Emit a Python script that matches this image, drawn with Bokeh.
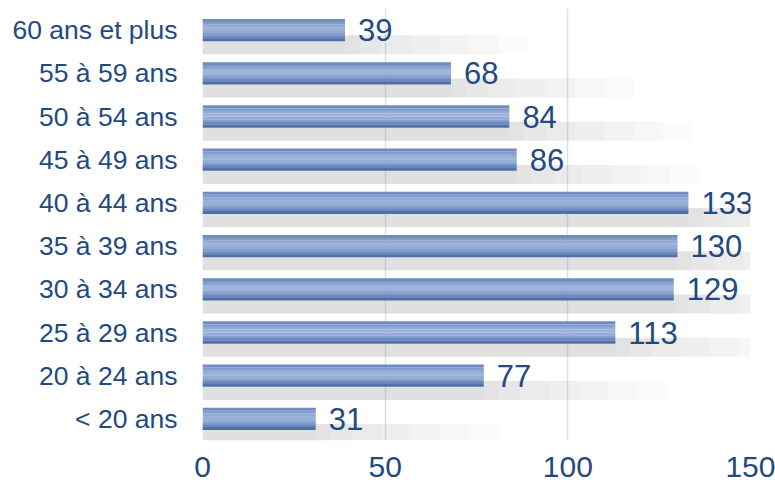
from bokeh.plotting import figure
from bokeh.models import ColumnDataSource, FactorRange, Range1d, FixedTicker
from bokeh.transform import dodge
from bokeh.core.properties import value
from bokeh.embed import file_html
from bokeh.resources import INLINE

categories = ["< 20 ans", "20 à 24 ans", "25 à 29 ans", "30 à 34 ans", "35 à 39 ans",
              "40 à 44 ans", "45 à 49 ans", "50 à 54 ans", "55 à 59 ans", "60 ans et plus"]
counts = [31, 77, 113, 129, 130, 133, 86, 84, 68, 39]
x_ticks = [0, 50, 100, 150]

FONT = "Liberation Sans"
TXT = "#234a7e"

src = ColumnDataSource(dict(cat=categories, val=counts, lab=[str(v) for v in counts]))

p = figure(width=775, height=483, output_backend="svg", toolbar_location=None,
           y_range=FactorRange(*categories, range_padding=0), x_range=Range1d(0, 150),
           min_border_left=202, min_border_right=25, min_border_top=8, min_border_bottom=43)
p.outline_line_color = None
p.background_fill_color = "white"

# shadows (layered for a soft fade)
for ext in [50, 42, 34, 26, 18, 10, 4, 0]:
    shadow_right = [v + ext for v in counts]
    s2 = ColumnDataSource(dict(cat=categories, r=shadow_right))
    p.hbar(y=dodge("cat", -0.34, range=p.y_range), left=0, right="r", height=0.44,
           source=s2, fill_color="#8a8a8a", fill_alpha=0.035, line_color=None)

# bar with pseudo-gradient bands (top -> bottom)
band_colors = ["#6f8cc0", "#839ecd", "#93abd6", "#9cb2da", "#94acd6", "#839ecc",
               "#6b89be", "#4f71a6"]
bh = 0.51 / len(band_colors)
for i, col in enumerate(band_colors):
    off = 0.255 - bh * (i + 0.5)
    p.hbar(y=dodge("cat", off, range=p.y_range), left=0, right="val", height=bh * 1.08,
           source=src, fill_color=col, line_color=None)

p.text(x="val", y="cat", text="lab", source=src, x_offset=13, y_offset=0,
       text_font=value(FONT), text_font_size="31px", text_color=TXT,
       text_baseline="middle", text_align="left")

p.xaxis.ticker = FixedTicker(ticks=x_ticks)
p.xgrid.ticker = FixedTicker(ticks=x_ticks)
p.xgrid.grid_line_color = "#d6e2f1"
p.xgrid.grid_line_width = 1.5
p.ygrid.grid_line_color = None

for ax in (p.xaxis, p.yaxis):
    ax.axis_line_color = None
    ax.major_tick_line_color = None
    ax.minor_tick_line_color = None
    ax.major_label_text_font = FONT
    ax.major_label_text_color = TXT

p.xaxis.major_label_text_font_size = "30px"
p.xaxis.major_label_standoff = 10
p.yaxis.major_label_text_font_size = "26.5px"
p.yaxis.major_label_standoff = 19

open("out.html", "w").write(file_html(p, INLINE))
